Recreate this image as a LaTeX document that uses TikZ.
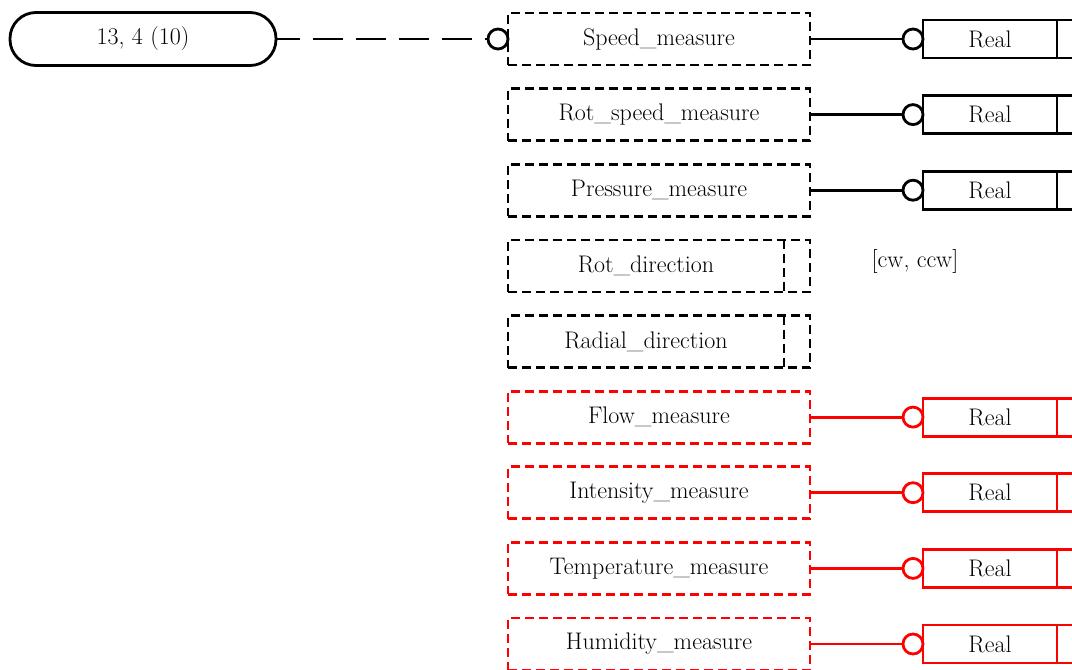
\documentclass[tikz,border=0pt]{standalone}
\begin{document}
\begin{tikzpicture}[x=1pt,y=-1pt, line width=2.8pt, font=\fontsize{24}{28}\selectfont, outer sep=0pt,
  attr/.style={draw, dash pattern=on 9pt off 5pt, minimum width=302pt, minimum height=52pt, inner sep=0pt},
  pill/.style={draw, rounded corners=26pt, minimum width=266pt, minimum height=53pt, inner sep=0pt},
  ring/.style={circle, draw, minimum size=20pt, inner sep=0pt, fill=white},
  typebox/.style={draw, minimum width=134pt, minimum height=38pt, inner sep=0pt},
  restbox/.style={draw, minimum width=80pt, minimum height=38pt, inner sep=0pt},
  conn/.style={draw}]
\useasboundingbox (0,0) rectangle (1072,670);
\clip (0,0) rectangle (1072,670);

\node[pill] (pill) at (143,39) {13, 4 (10)};

% attribute boxes
\node[attr] (r1) at (659,39) {Speed\_measure};
\node[attr] (r2) at (659,114.6) {Rot\_speed\_measure};
\node[attr] (r3) at (659,190.2) {Pressure\_measure};
\node[attr] (r4) at (659,265.9) {\hspace*{-26pt}Rot\_direction};
\node[attr] (r5) at (659,341.5) {\hspace*{-26pt}Radial\_direction};
\begin{scope}[red]
\node[attr, text=black] (r6) at (659,417.1) {Flow\_measure};
\node[attr, text=black] (r7) at (659,492.7) {Intensity\_measure};
\node[attr, text=black] (r8) at (659,568.4) {Temperature\_measure};
\node[attr, text=black] (r9) at (659,644) {Humidity\_measure};
\end{scope}

\draw[dash pattern=on 9pt off 5pt] ([xshift=-26pt]r4.north east) -- ([xshift=-26pt]r4.south east);
\draw[dash pattern=on 9pt off 5pt] ([xshift=-26pt]r5.north east) -- ([xshift=-26pt]r5.south east);

\node (cw) at (915,261) {[cw, ccw]};

% pill connector
\node[ring] (c0) at (498,39) {};
\draw[dash pattern=on 30pt off 13pt, dash phase=6pt] (pill.east) -- (c0.west);

% type boxes
\foreach \i/\y/\col in {1/39/black, 2/114.6/black, 3/190.2/black, 6/417.1/red, 7/492.7/red, 8/568.4/red, 9/644/red}{
  \node[typebox, draw=\col] (t\i) at (990,\y) {Real};
  \node[restbox, draw=\col, anchor=west] (u\i) at (t\i.east) {};
  \node[ring, draw=\col] (c\i) at (913,\y) {};
  \draw[\col] (r\i.east) -- (c\i.west);
}
\end{tikzpicture}
\end{document}
